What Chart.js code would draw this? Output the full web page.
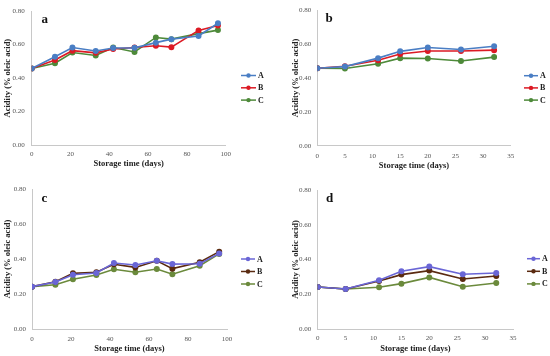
<!DOCTYPE html>
<html>
<head>
<meta charset="utf-8">
<script src="https://cdn.jsdelivr.net/npm/chart.js@4"></script>
<style>
  body { margin: 0; background: #fff; }
  .wrap { position: absolute; width: 275px; height: 178px; }
  canvas { display: block; }
</style>
</head>
<body>
<div class="wrap" style="left:0;top:0"><canvas id="ca" width="275" height="178"></canvas></div>
<div class="wrap" style="left:275px;top:0"><canvas id="cb" width="275" height="178"></canvas></div>
<div class="wrap" style="left:0;top:178px"><canvas id="cc" width="275" height="178"></canvas></div>
<div class="wrap" style="left:275px;top:178px"><canvas id="cd" width="275" height="178"></canvas></div>
<script>
// storage days
const daysLong = [0, 12, 21, 33, 42, 53, 64, 72, 86, 96];
const daysShort = [0, 5, 11, 15, 20, 26, 32];
const seriesNames = ["A", "B", "C"];

// panel a
const aA = [0.457, 0.528, 0.583, 0.562, 0.58, 0.581, 0.612, 0.633, 0.652, 0.728];
const aB = [0.457, 0.508, 0.564, 0.551, 0.574, 0.583, 0.593, 0.585, 0.685, 0.714];
const aC = [0.457, 0.489, 0.553, 0.535, 0.583, 0.556, 0.643, 0.633, 0.666, 0.687];
// panel b
const bA = [0.457, 0.467, 0.517, 0.557, 0.58, 0.568, 0.587];
const bB = [0.457, 0.469, 0.505, 0.541, 0.559, 0.559, 0.564];
const bC = [0.457, 0.456, 0.484, 0.517, 0.515, 0.5, 0.523];
// panel c
const cA = [0.242, 0.269, 0.31, 0.32, 0.377, 0.366, 0.39, 0.371, 0.373, 0.432];
const cB = [0.242, 0.27, 0.318, 0.324, 0.37, 0.352, 0.39, 0.345, 0.381, 0.442];
const cC = [0.242, 0.253, 0.284, 0.309, 0.341, 0.324, 0.343, 0.313, 0.362, 0.429];
// panel d
const dA = [0.242, 0.23, 0.28, 0.332, 0.359, 0.315, 0.322];
const dB = [0.242, 0.23, 0.276, 0.313, 0.336, 0.288, 0.305];
const dC = [0.242, 0.23, 0.24, 0.261, 0.297, 0.243, 0.265];

const yTicks = ["0.00", "0.20", "0.40", "0.60", "0.80"];

const colorsTop = ["#4a7ec4", "#dc1a24", "#4e8a3a"];
const colorsBottom = ["#6a66d6", "#5a2a10", "#6b8a3c"];

const serif = "'Liberation Serif', 'DejaVu Serif', serif";

// legend on the right: line with a dot and a bold letter
const sideLegend = {
  id: "sideLegend",
  afterDraw(chart, args, opts) {
    const ctx = chart.ctx;
    ctx.save();
    chart.data.datasets.forEach((ds, i) => {
      const y = opts.y + i * opts.dy;
      ctx.strokeStyle = ds.borderColor;
      ctx.lineWidth = 1.5;
      ctx.beginPath();
      ctx.moveTo(opts.x, y);
      ctx.lineTo(opts.x + opts.len, y);
      ctx.stroke();
      ctx.fillStyle = ds.borderColor;
      ctx.beginPath();
      ctx.arc(opts.x + opts.len / 2, y, 2.2, 0, Math.PI * 2);
      ctx.fill();
      ctx.fillStyle = "#222";
      ctx.font = "bold 8px " + serif;
      ctx.textBaseline = "middle";
      ctx.textAlign = "left";
      ctx.fillText(ds.label, opts.x + opts.len + 2, y + 0.5);
    });
    ctx.restore();
  }
};

const panelLetter = {
  id: "panelLetter",
  afterDraw(chart, args, opts) {
    const ctx = chart.ctx;
    ctx.save();
    ctx.fillStyle = "#111";
    ctx.font = "bold 13px " + serif;
    ctx.textBaseline = "middle";
    ctx.fillText(opts.text, opts.x, opts.y);
    ctx.restore();
  }
};

function makeChart(id, days, values, colors, xMax, xStep, L) {
  const datasets = values.map((vals, i) => ({
    label: seriesNames[i],
    data: days.map((d, k) => ({ x: d, y: vals[k] })),
    borderColor: colors[i],
    backgroundColor: colors[i],
    borderWidth: 1.6,
    pointRadius: 2.2,
    pointHoverRadius: 2.2,
    tension: 0
  }));
  new Chart(document.getElementById(id), {
    type: "line",
    data: { datasets: datasets },
    options: {
      responsive: false,
      animation: false,
      events: [],
      layout: { padding: { left: 0, top: L.top, right: 275 - L.right, bottom: 0 } },
      plugins: {
        legend: { display: false },
        tooltip: { enabled: false },
        sideLegend: L.legend,
        panelLetter: L.letter
      },
      scales: {
        x: {
          type: "linear",
          min: 0, max: xMax,
          afterFit: (s) => { s.height = 178 - L.bottom; },
          grid: { display: false, drawTicks: false },
          border: { display: true, color: "#c8c8c8", width: 1 },
          ticks: {
            stepSize: xStep, padding: L.xTickPad, color: "#555",
            font: { family: serif, size: 7 }
          },
          title: {
            display: true, text: "Storage time (days)", color: "#222",
            font: { family: serif, size: 8.5, weight: "bold" },
            padding: { top: 0, bottom: L.xTitlePad }
          }
        },
        y: {
          min: 0, max: 0.8,
          afterFit: (s) => { s.width = L.left; },
          grid: { display: false, drawTicks: false },
          border: { display: true, color: "#c8c8c8", width: 1 },
          ticks: {
            stepSize: 0.2, padding: L.yTickPad, color: "#555",
            font: { family: serif, size: 7 },
            callback: (v) => yTicks[Math.round(v / 0.2)]
          },
          title: {
            display: true, text: "Acidity (% oleic acid)", color: "#222",
            font: { family: serif, size: 8.5, weight: "bold" },
            padding: { top: L.yTitlePad, bottom: 0 }
          }
        }
      }
    },
    plugins: [sideLegend, panelLetter]
  });
}

makeChart("ca", daysLong, [aA, aB, aC], colorsTop, 100, 20, {
  left: 31.7, right: 225.7, top: 6, bottom: 145,
  xTickPad: 5, xTitlePad: 9, yTickPad: 7, yTitlePad: 3,
  legend: { x: 241, y: 75.5, dy: 12.3, len: 15 },
  letter: { text: "a", x: 41.5, y: 19.5 }
});
makeChart("cb", daysShort, [bA, bB, bC], colorsTop, 35, 5, {
  left: 42.3, right: 235.7, top: 6, bottom: 145.7,
  xTickPad: 6, xTitlePad: 7, yTickPad: 6, yTitlePad: 15.5,
  legend: { x: 249, y: 75.7, dy: 12.2, len: 14 },
  letter: { text: "b", x: 50.5, y: 19 }
});
makeChart("cc", daysLong, [cA, cB, cC], colorsBottom, 100, 20, {
  left: 32, right: 227, top: 11, bottom: 151,
  xTickPad: 5.5, xTitlePad: 2, yTickPad: 6, yTitlePad: 2.2,
  legend: { x: 241, y: 81, dy: 12.5, len: 14 },
  letter: { text: "c", x: 41.5, y: 20.5 }
});
makeChart("cd", daysShort, [dA, dB, dC], colorsBottom, 35, 5, {
  left: 42.7, right: 238, top: 12, bottom: 151,
  xTickPad: 4.5, xTitlePad: 2, yTickPad: 6.5, yTitlePad: 15.5,
  legend: { x: 252, y: 80.7, dy: 12.6, len: 13 },
  letter: { text: "d", x: 51, y: 20.5 }
});
</script>
</body>
</html>
